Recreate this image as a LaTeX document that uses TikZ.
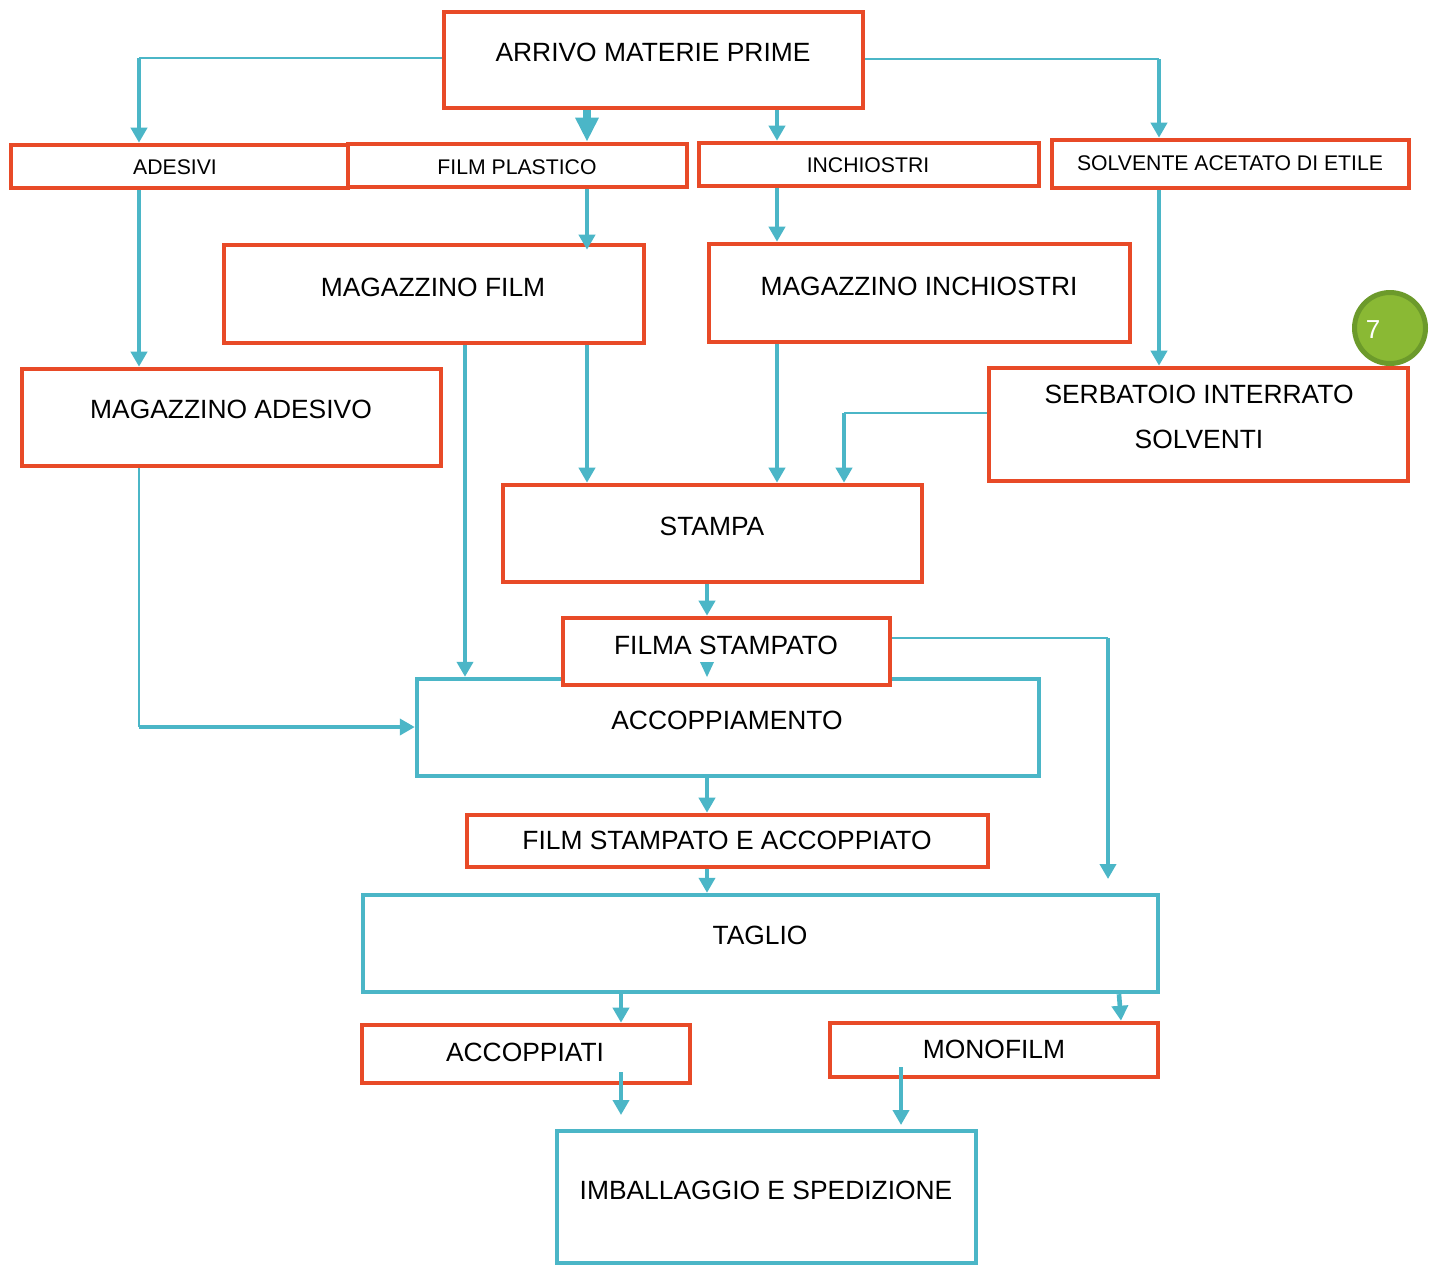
\documentclass[tikz,border=0pt]{standalone}
\usepackage{fontspec}
\setmainfont{Liberation Sans}
\usetikzlibrary{arrows.meta}
\definecolor{rd}{HTML}{E84A27}
\definecolor{tl}{HTML}{4BB6C7}
\definecolor{gf}{HTML}{8AB934}
\definecolor{gb}{HTML}{6C9A2B}
\newcommand\mkbox[6]{%
  \pgfmathsetmacro\bw{(#4-#2)*0.5}\pgfmathsetmacro\bh{(#5-#3)*0.5}%
  \pgfmathsetmacro\bcx{(#2+#4)/2}\pgfmathsetmacro\bcy{(#3+#5)/2}%
  \node[#6, minimum width=\bw pt, minimum height=\bh pt] (#1) at (\bcx,\bcy) {};}
\begin{document}
\begin{tikzpicture}[x=0.5pt,y=-0.5pt,
  rbox/.style={draw=rd, line width=2.3pt, fill=white, inner sep=0pt},
  tbox/.style={draw=tl, line width=2.2pt, fill=white, inner sep=0pt},
  big/.style={font=\fontsize{13.2pt}{16pt}\selectfont, inner sep=0pt},
  small/.style={font=\fontsize{10.6pt}{13pt}\selectfont, inner sep=0pt},
  arr/.style={draw=tl, line width=2.3pt, -{Triangle[width=8pt,length=7.5pt]}},
  bigarr/.style={draw=tl, line width=4pt, -{Triangle[width=11pt,length=12pt]}},
  ln/.style={draw=tl, line width=1.3pt},
]
\useasboundingbox (0,0) rectangle (1434,1266);
% green badge (behind serbatoio)
\node[draw=gb, fill=gf, line width=2.5pt, circle, minimum size=35.5pt, inner sep=0pt] (badge) at (1390,328) {};
% boxes
\mkbox{arrivo}{444}{12}{863}{108}{rbox}
\mkbox{adesivi}{11}{145}{348}{188}{rbox}
\mkbox{film}{348}{144}{687}{187}{rbox}
\mkbox{inch}{699}{143}{1039}{186}{rbox}
\mkbox{solv}{1052}{140}{1409}{188}{rbox}
\mkbox{magfilm}{224}{245}{644}{343}{rbox}
\mkbox{maginch}{709}{244}{1130}{342}{rbox}
\mkbox{magades}{22}{369}{441}{466}{rbox}
\mkbox{serb}{989}{368}{1408}{481}{rbox}
\mkbox{stampa}{503}{485}{922}{582}{rbox}
\mkbox{accopp}{417}{679}{1039}{776}{tbox}
\mkbox{filma}{563}{618}{890}{685}{rbox}
\mkbox{fsa}{467}{815}{988}{867}{rbox}
\mkbox{taglio}{363}{895}{1158}{992}{tbox}
\mkbox{accoppiati}{362}{1025}{690}{1083}{rbox}
\mkbox{mono}{830}{1023}{1158}{1077}{rbox}
\mkbox{imb}{557}{1131}{976}{1263}{tbox}
% texts
\node[big] (t1) at (653,52) {ARRIVO MATERIE PRIME};
\node[small] (t2) at (175,167) {ADESIVI};
\node[small] (t3) at (517,167) {FILM PLASTICO};
\node[small] (t4) at (868,165) {INCHIOSTRI};
\node[small] (t5) at (1230,163) {SOLVENTE ACETATO DI ETILE};
\node[big] (t6) at (433,287) {MAGAZZINO FILM};
\node[big] (t7) at (919,286) {MAGAZZINO INCHIOSTRI};
\node[big] (t8) at (231,409) {MAGAZZINO ADESIVO};
\node[big, align=center, font=\fontsize{13.2pt}{22.8pt}\selectfont] (t9) at (1199,417) {SERBATOIO INTERRATO\\SOLVENTI};
\node[big] (t10) at (712,526) {STAMPA};
\node[big] (t11) at (726,645) {FILMA STAMPATO};
\node[big] (t12) at (727,720) {ACCOPPIAMENTO};
\node[big] (t13) at (727,840) {FILM STAMPATO E ACCOPPIATO};
\node[big] (t14) at (760,935) {TAGLIO};
\node[big] (t15) at (525,1052) {ACCOPPIATI};
\node[big] (t16) at (994,1049) {MONOFILM};
\node[big] (t17) at (766,1190) {IMBALLAGGIO E SPEDIZIONE};
\node[font=\fontsize{13pt}{16pt}\selectfont, text=white, inner sep=0pt] (t18) at (1373,330) {7};
% connectors
\coordinate (c1) at (139,58);
\draw[ln] (arrivo.west |- c1) -- (c1);
\draw[arr] (c1) -- (c1 |- adesivi.north);
\draw[bigarr] (arrivo.south -| 587,0) -- (film.north -| 587,0);
\draw[arr] (arrivo.south -| 777,0) -- (inch.north -| 777,0);
\coordinate (c2) at (1159,59);
\draw[ln] (arrivo.east |- c2) -- (c2);
\draw[arr] (c2) -- (c2 |- solv.north);
\draw[arr] (adesivi.south -| 139,0) -- (magades.north -| 139,0);
\draw[arr, shorten >=-3.5pt] (film.south -| 587,0) -- (magfilm.north -| 587,0);
\draw[arr] (inch.south -| 777,0) -- (maginch.north -| 777,0);
\draw[arr] (solv.south -| 1159,0) -- (serb.north -| 1159,0);
\draw[arr] (magfilm.south -| 465,0) -- (accopp.north -| 465,0);
\draw[arr] (magfilm.south -| 587,0) -- (stampa.north -| 587,0);
\draw[arr] (maginch.south -| 777,0) -- (stampa.north -| 777,0);
\coordinate (c3) at (844,413);
\draw[ln] (serb.west |- c3) -- (c3);
\draw[arr] (c3) -- (c3 |- stampa.north);
\coordinate (c4) at (139,727);
\draw[ln] (magades.south -| c4) -- (c4);
\draw[arr] (c4) -- (c4 -| accopp.west);
\draw[arr] (stampa.south -| 707,0) -- (filma.north -| 707,0);
\fill[tl] (700,662) -- (714,662) -- (707,677) -- cycle;
\coordinate (c5) at (1108,638);
\coordinate (c6) at (1108,879);
\draw[ln] (filma.east |- c5) -- (c5);
\draw[arr] (c5) -- (c6);
\draw[arr] (accopp.south -| 707,0) -- (fsa.north -| 707,0);
\draw[arr] (fsa.south -| 707,0) -- (taglio.north -| 707,0);
\draw[arr] (taglio.south -| 621,0) -- (accoppiati.north -| 621,0);
\draw[arr] (taglio.south -| 1119,0) -- (mono.north -| 1121,0);
\coordinate (c7) at (621,1072);
\coordinate (c8) at (621,1115);
\draw[arr] (c7) -- (c8);
\coordinate (c9) at (901,1067);
\coordinate (c10) at (901,1125);
\draw[arr] (c9) -- (c10);
\end{tikzpicture}
\end{document}
